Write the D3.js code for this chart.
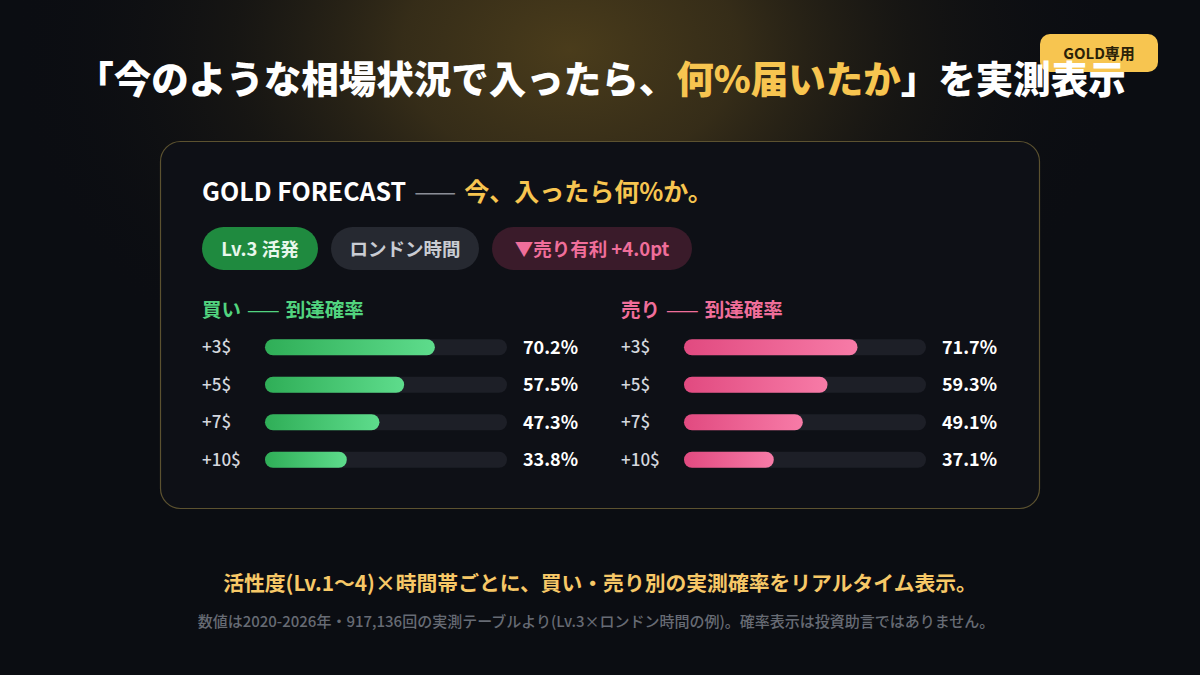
<!DOCTYPE html>
<html><head><meta charset="utf-8">
<script src="https://cdn.jsdelivr.net/npm/d3@7"></script>
<style>
html,body{margin:0;padding:0;background:#0b0d12;}
svg{display:block;}
</style></head>
<body>
<svg id="c" width="1200" height="675"></svg>
<script>
const levels = ["+3$", "+5$", "+7$", "+10$"];
const buyValues = [70.2, 57.5, 47.3, 33.8];
const sellValues = [71.7, 59.3, 49.1, 37.1];
const pills = ["Lv.3 活発", "ロンドン時間", "▼売り有利 +4.0pt"];
const titleParts = ["「今のような相場状況で入ったら、", "何%届いたか", "」を実測表示"];

const F = "'Noto Sans CJK JP','Noto Sans',sans-serif";
const svg = d3.select("#c");
const defs = svg.append("defs");

const glow = defs.append("radialGradient").attr("id","glow").attr("gradientUnits","userSpaceOnUse")
  .attr("cx",0).attr("cy",0).attr("r",1)
  .attr("gradientTransform","translate(570,50) scale(560,400)");
glow.append("stop").attr("offset","0%").attr("stop-color","#4a3c1b").attr("stop-opacity",1);
glow.append("stop").attr("offset","30%").attr("stop-color","#3a3019").attr("stop-opacity",0.9);
glow.append("stop").attr("offset","60%").attr("stop-color","#1e1b14").attr("stop-opacity",0.6);
glow.append("stop").attr("offset","100%").attr("stop-color","#0b0d12").attr("stop-opacity",0);

function lin(id, c1, c2){
  const g = defs.append("linearGradient").attr("id",id).attr("x1","0%").attr("x2","100%");
  g.append("stop").attr("offset","0%").attr("stop-color",c1);
  g.append("stop").attr("offset","100%").attr("stop-color",c2);
}
lin("gBuy","#2fae57","#5edc8c");
lin("gSell","#e14a80","#f77ba7");

svg.append("rect").attr("width",1200).attr("height",675).attr("fill","#0b0d12");
svg.append("rect").attr("width",1200).attr("height",675).attr("fill","url(#glow)");

// badge
const badge = svg.append("g");
badge.append("rect").attr("x",1040).attr("y",34).attr("width",118).attr("height",38).attr("rx",10).attr("fill","#f7c550");
badge.append("text").attr("x",1099).attr("y",58.5).attr("text-anchor","middle").attr("font-family",F).attr("font-weight",700).attr("font-size",15).attr("fill","#2a2108").text("GOLD専用");

// title
const t = svg.append("text").attr("x",601).attr("y",93).attr("text-anchor","middle").attr("font-family",F).attr("font-weight",900).attr("font-size",37.5).attr("fill","#ffffff");
t.append("tspan").text(titleParts[0]);
t.append("tspan").attr("fill","#f7c550").text(titleParts[1]);
t.append("tspan").text(titleParts[2]);

// card
svg.append("rect").attr("x",160.5).attr("y",141.5).attr("width",879).attr("height",367).attr("rx",20)
  .attr("fill","#0e1016").attr("stroke","#5c5230").attr("stroke-width",1.2);

// card title
const ct = svg.append("text").attr("x",202).attr("y",201).attr("font-family",F).attr("font-weight",700).attr("font-size",25);
ct.append("tspan").attr("fill","#ffffff").text("GOLD FORECAST");
ct.append("tspan").attr("fill","#8a8d96").attr("font-weight",400).attr("dx",8).text("——");
ct.append("tspan").attr("fill","#f7c550").attr("dx",8).text("今、入ったら何%か。");

// pills
const pillStyle = [
  {x:202,w:116,fill:"#1f8a3f",color:"#e8f7ec"},
  {x:331,w:148,fill:"#262931",color:"#c9ccd3"},
  {x:492,w:200,fill:"#3a1b2a",color:"#f06e9a"}
];
pills.forEach((p,i)=>{
  const s = pillStyle[i];
  svg.append("rect").attr("x",s.x).attr("y",227).attr("width",s.w).attr("height",43).attr("rx",21.5).attr("fill",s.fill);
  svg.append("text").attr("x",s.x+s.w/2).attr("y",255.5).attr("text-anchor","middle").attr("font-family",F).attr("font-weight",700).attr("font-size",18.5).attr("fill",s.color).text(p);
});

// panels
const y = d3.scaleBand().domain(levels).range([328,478]).paddingInner(0);
function panel(x0, title, color, values, grad){
  const h = svg.append("text").attr("x",x0).attr("y",317).attr("font-family",F).attr("font-weight",700).attr("font-size",19.5).attr("fill",color);
  h.append("tspan").text(title[0]);
  h.append("tspan").attr("font-weight",400).attr("dx",6).text("——");
  h.append("tspan").attr("dx",6).text(title[1]);
  const trackX = x0 + 63, trackW = 242;
  const x = d3.scaleLinear().domain([0,100]).range([0,trackW]);
  const g = svg.append("g");
  levels.forEach((lv,i)=>{
    const cy = y(lv) + y.bandwidth()/2 + 0.5;
    g.append("text").attr("x",x0).attr("y",cy+6).attr("font-family",F).attr("font-weight",500).attr("font-size",17).attr("fill","#d4d7de").text(lv);
    g.append("rect").attr("x",trackX).attr("y",cy-8).attr("width",x(100)).attr("height",16).attr("rx",8).attr("fill","#1d1f27");
    g.append("rect").attr("x",trackX).attr("y",cy-8).attr("width",x(values[i])).attr("height",16).attr("rx",8).attr("fill",`url(#${grad})`);
    g.append("text").attr("x",x0+321).attr("y",cy+6.5).attr("font-family",F).attr("font-weight",700).attr("font-size",18).attr("fill","#ffffff").text(values[i].toFixed(1)+"%");
  });
}
panel(202, ["買い","到達確率"], "#52d47f", buyValues, "gBuy");
panel(621, ["売り","到達確率"], "#f06e9a", sellValues, "gSell");

// footnotes
svg.append("text").attr("x",600).attr("y",591).attr("text-anchor","middle").attr("font-family",F).attr("font-weight",700).attr("font-size",20.8).attr("fill","#f7c867").text("活性度(Lv.1〜4)×時間帯ごとに、買い・売り別の実測確率をリアルタイム表示。");
svg.append("text").attr("x",596).attr("y",627).attr("text-anchor","middle").attr("font-family",F).attr("font-weight",500).attr("font-size",15).attr("fill","#676b74").text("数値は2020-2026年・917,136回の実測テーブルより(Lv.3×ロンドン時間の例)。確率表示は投資助言ではありません。");
</script>
</body></html>
